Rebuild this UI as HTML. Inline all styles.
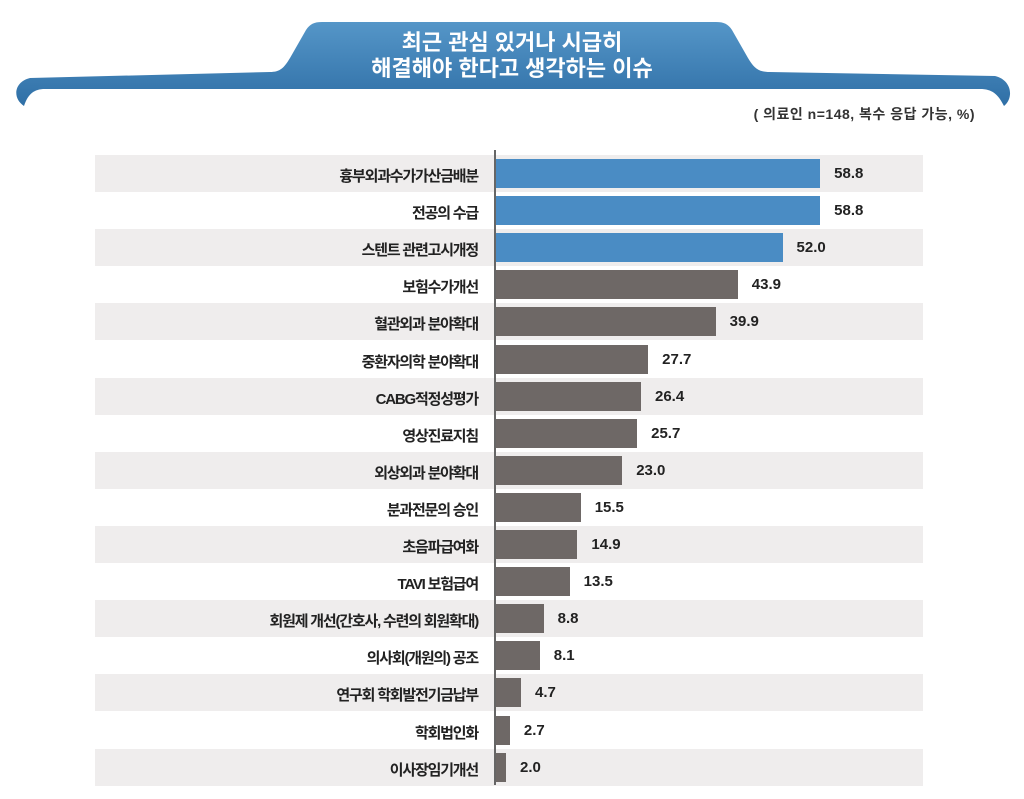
<!DOCTYPE html>
<html><head><meta charset="utf-8"><style>
body{margin:0;width:1024px;height:799px;background:#fff;position:relative;overflow:hidden;font-family:"Liberation Sans","Noto Sans CJK KR",sans-serif}
.row{position:absolute;left:95px;width:828px;height:37px}
.g{background:#efeded}
.lab{position:absolute;right:546px;font-size:15px;color:#222;letter-spacing:-1.2px;white-space:nowrap;font-weight:bold}
.bar{position:absolute;left:495px;height:29px}
.val{position:absolute;font-size:15px;font-weight:bold;color:#222}
</style></head><body>
<svg width="1024" height="130" style="position:absolute;left:0;top:0">
<defs><linearGradient id="b" x1="0" y1="0" x2="0" y2="1"><stop offset="0" stop-color="#5596c8"/><stop offset="1" stop-color="#2f6fa6"/></linearGradient></defs>
<path d="M24,106 C12,98 14,82 30,78 L270,72 C280,72 284,68 290,58 L306,30 C310,24 314,22 322,22 L716,22 C724,22 728,24 732,30 L748,58 C754,68 758,72 770,72 L995,76 C1012,80 1014,98 1004,106 C998,94 992,89 980,89 L45,89 C34,89 28,94 24,106Z" fill="url(#b)"/>
<text x="512" y="50" text-anchor="middle" font-size="22" fill="#fff" font-weight="bold" font-family="Liberation Sans,Noto Sans CJK KR,sans-serif">최근 관심 있거나 시급히</text>
<text x="512" y="76" text-anchor="middle" font-size="22" fill="#fff" font-weight="bold" font-family="Liberation Sans,Noto Sans CJK KR,sans-serif">해결해야  한다고 생각하는 이슈</text>
</svg>
<div style="position:absolute;right:49px;top:104px;font-size:14px;color:#333;font-weight:bold;letter-spacing:0.5px">( 의료인 n=148, 복수 응답 가능,  %)</div>
<div id="c"></div>
<div style="position:absolute;left:494px;top:150px;width:2px;height:635px;background:#666"></div>
<script>
var d=[["흉부외과수가가산금배분",58.8],["전공의 수급",58.8],["스텐트 관련고시개정",52.0],["보험수가개선",43.9],["혈관외과 분야확대",39.9],["중환자의학 분야확대",27.7],["CABG적정성평가",26.4],["영상진료지침",25.7],["외상외과 분야확대",23.0],["분과전문의 승인",15.5],["초음파급여화",14.9],["TAVI 보험급여",13.5],["회원제 개선(간호사, 수련의 회원확대)",8.8],["의사회(개원의) 공조",8.1],["연구회 학회발전기금납부",4.7],["학회법인화",2.7],["이사장임기개선",2.0]];
var h="";
d.forEach(function(r,i){var t=155+i*37.1;var w=r[1]*5.53;var c=i<3?"#4a8cc4":"#6e6866";
h+='<div class="row'+(i%2==0?' g':'')+'" style="top:'+t+'px"></div>';
h+='<div class="lab" style="top:'+(t+10)+'px">'+r[0]+'</div>';
h+='<div class="bar" style="top:'+(t+4)+'px;width:'+w+'px;background:'+c+'"></div>';
h+='<div class="val" style="top:'+(t+10)+'px;left:'+(495+w+14)+'px">'+r[1].toFixed(1)+'</div>';});
document.getElementById("c").innerHTML=h;
</script>
</body></html>
